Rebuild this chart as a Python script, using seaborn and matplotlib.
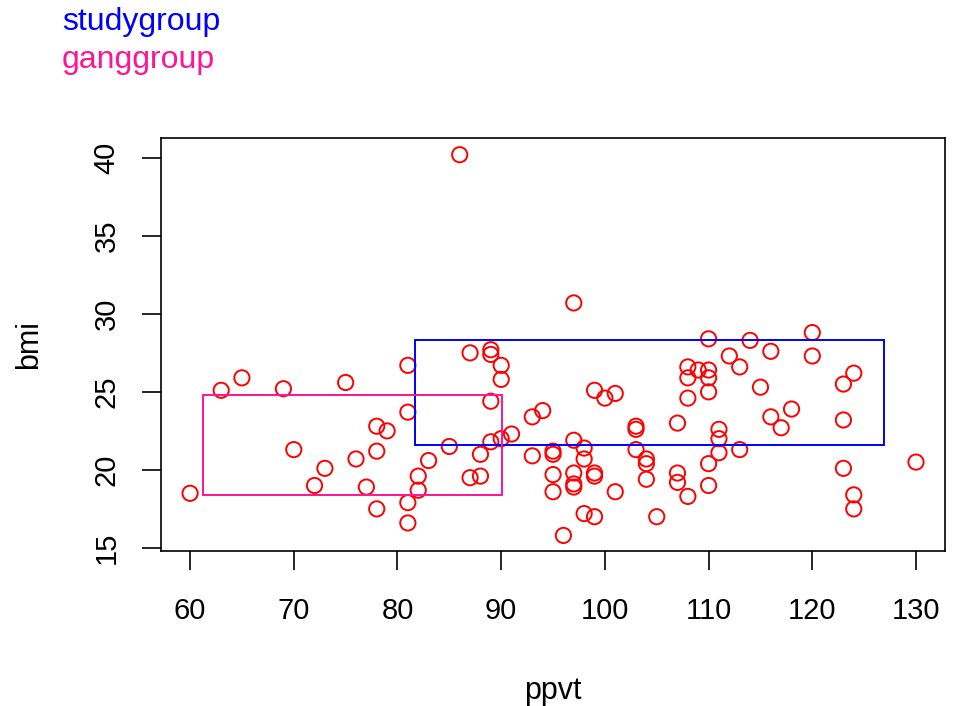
import matplotlib
matplotlib.use("Agg")
import matplotlib.pyplot as plt
import seaborn as sns
import pandas as pd
from matplotlib.patches import Rectangle

ppvt = [60, 63, 65, 69, 70, 72, 73, 75, 76, 77, 78, 78, 78, 79, 81, 81, 81, 81, 82, 82,
        83, 85, 86, 87, 87, 88, 88, 89, 89, 89, 89, 90, 90, 90, 91, 93, 93, 94, 95, 95,
        95, 95, 96, 97, 97, 97, 97, 97, 98, 98, 98, 99, 99, 99, 99, 100, 101, 101, 103, 103,
        103, 104, 104, 104, 105, 107, 107, 107, 108, 108, 108, 108, 109, 110, 110, 110, 110, 110, 110, 111,
        111, 111, 112, 113, 113, 114, 115, 116, 116, 117, 118, 120, 120, 123, 123, 123, 124, 124, 124, 130]
bmi = [18.5, 25.1, 25.9, 25.2, 21.3, 19.0, 20.1, 25.6, 20.7, 18.9, 22.8, 21.2, 17.5, 22.5, 26.7, 23.7, 17.9, 16.6, 19.6, 18.7,
       20.6, 21.5, 40.2, 27.5, 19.5, 21.0, 19.6, 27.7, 27.4, 24.4, 21.8, 26.7, 25.8, 22.0, 22.3, 23.4, 20.9, 23.8, 21.2, 21.0,
       19.7, 18.6, 15.8, 30.7, 21.9, 19.8, 19.1, 18.9, 21.4, 20.7, 17.2, 25.1, 19.8, 19.6, 17.0, 24.6, 24.9, 18.6, 22.8, 22.6,
       21.3, 20.7, 20.4, 19.4, 17.0, 23.0, 19.8, 19.2, 26.6, 25.9, 24.6, 18.3, 26.4, 28.4, 26.4, 25.9, 25.0, 20.4, 19.0, 22.6,
       22.0, 21.1, 27.3, 26.6, 21.3, 28.3, 25.3, 27.6, 23.4, 22.7, 23.9, 28.8, 27.3, 25.5, 23.2, 20.1, 26.2, 18.4, 17.5, 20.5]

group_names = ["studygroup", "ganggroup"]
group_colors = ["#0000FF", "#FF1493"]
box_x0 = [81.7, 61.2]
box_x1 = [126.9, 90.1]
box_y0 = [21.6, 18.4]
box_y1 = [28.35, 24.8]

x_ticks = [60, 70, 80, 90, 100, 110, 120, 130]
y_ticks = [15, 20, 25, 30, 35, 40]

sns.set_style("white")
plt.rcParams['font.family'] = ['Liberation Sans', 'DejaVu Sans']

fig = plt.figure(figsize=(9.54, 7.06), dpi=100)
ax = fig.add_axes([0.1688, 0.2195, 0.8218, 0.5857])

df = pd.DataFrame({"ppvt": ppvt, "bmi": bmi})
sns.scatterplot(data=df, x="ppvt", y="bmi", ax=ax, marker="o", s=120,
                facecolor="none", edgecolor="#FF0000", linewidth=1.4)

for i in range(len(group_names)):
    ax.add_patch(Rectangle((box_x0[i], box_y0[i]), box_x1[i] - box_x0[i], box_y1[i] - box_y0[i],
                           fill=False, edgecolor=group_colors[i], linewidth=1.4))

ax.set_xlim(57.2, 132.8)
ax.set_ylim(14.8, 41.3)
ax.set_xticks(x_ticks)
ax.set_yticks(y_ticks)
ax.tick_params(axis='both', labelsize=21, length=14, width=1.2, color='black', labelcolor='black',
               direction='out', bottom=True, left=True)
ax.tick_params(axis='x', pad=19)
ax.tick_params(axis='y', pad=15)
for lab in ax.get_yticklabels():
    lab.set_rotation(90)
    lab.set_va('center')
for s in ax.spines.values():
    s.set_color('black')
    s.set_linewidth(1.2)
ax.set_xlabel("ppvt", fontsize=22, labelpad=37, color='black')
ax.set_ylabel("bmi", fontsize=22, labelpad=35, color='black')

fig.text(0.065, 0.9575, group_names[0], color=group_colors[0], fontsize=23, va='baseline', ha='left')
fig.text(0.065, 0.9037, group_names[1], color=group_colors[1], fontsize=23, va='baseline', ha='left')

fig.savefig("out.png", dpi=100)
